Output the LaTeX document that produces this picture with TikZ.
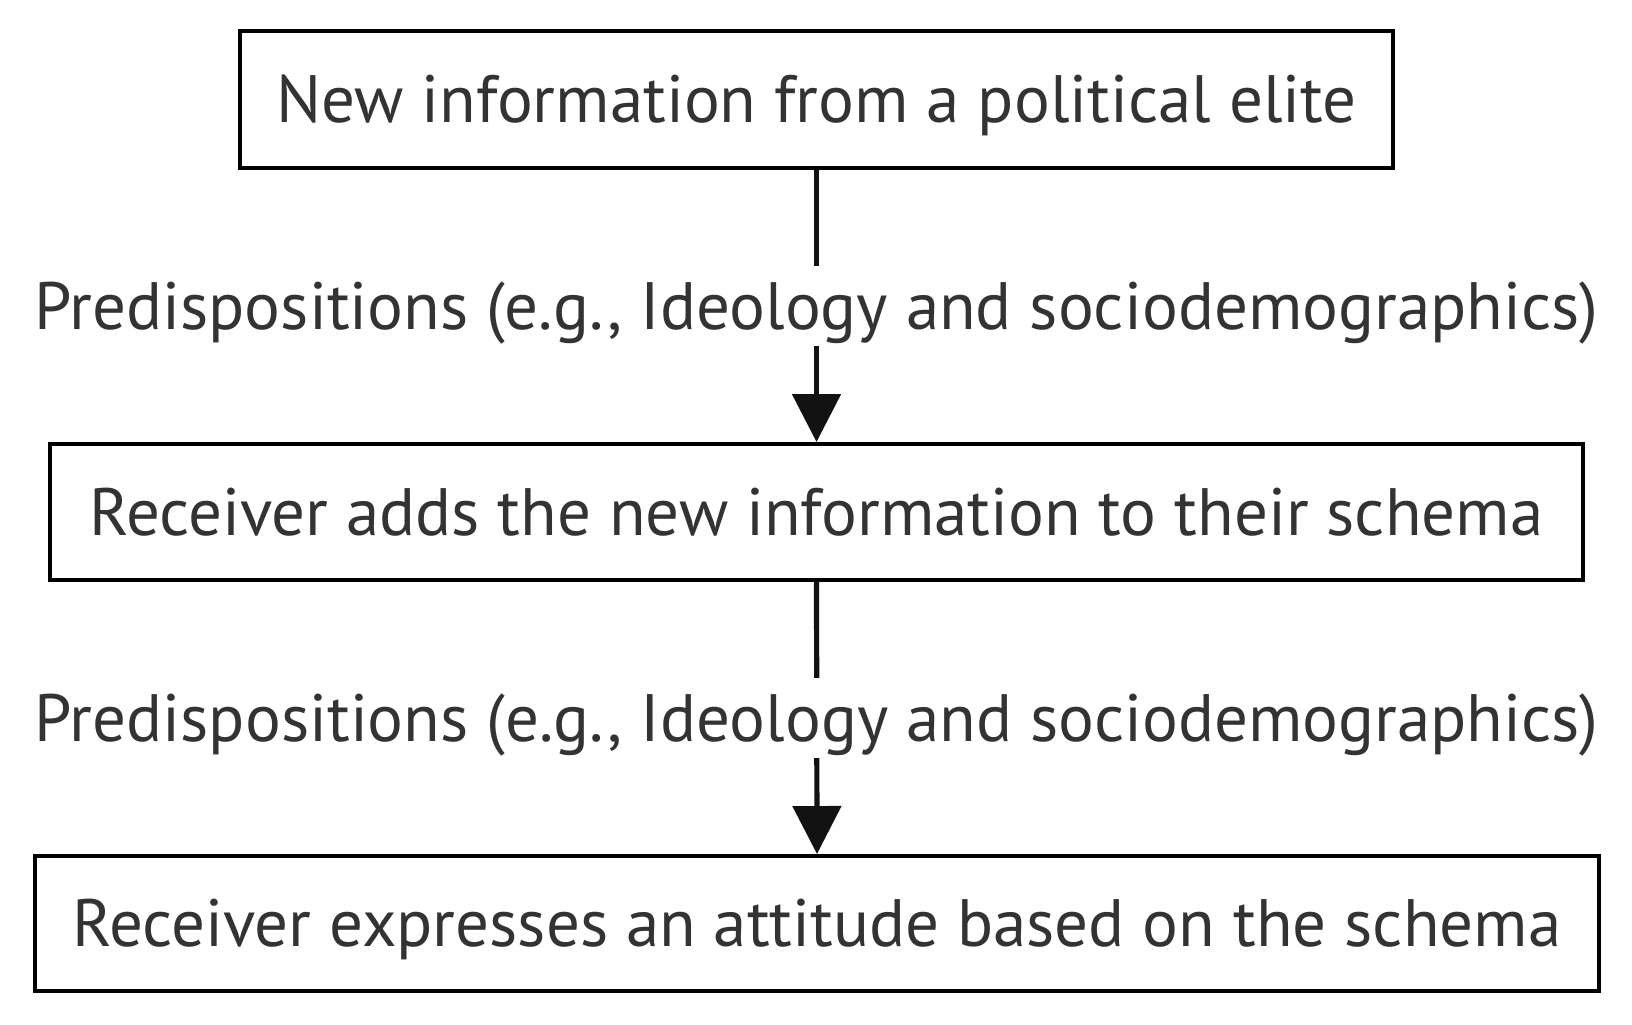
\documentclass[tikz,border=0pt]{standalone}
\usepackage{fontspec}
\setmainfont{PT Sans}
\usetikzlibrary{arrows.meta}
\definecolor{txt}{HTML}{333333}
% text set on a zero-size box so that its capitals sit centred in the node
\newcommand{\capcentre}[1]{\raisebox{-11.7pt}[0pt][0pt]{#1}}
\begin{document}
\begin{tikzpicture}[x=0.5pt,y=-0.5pt,
  stage/.style={draw=black, line width=2pt, fill=white, text=txt,
    font=\fontsize{33.5}{40}\selectfont, inner sep=0pt, anchor=center},
  flow/.style={draw=black!93, line width=2.6pt,
    -{Triangle[length=24pt,width=24pt]}},
  cond/.style={fill=white, text=txt, font=\fontsize{33.5}{40}\selectfont,
    inner sep=0pt, minimum height=40pt, minimum width=790pt}]
  \useasboundingbox (0,0) rectangle (1632,1024);
  \node[stage, minimum width=576.5pt, minimum height=68.5pt] (elite) at (816.5,99.5) {\capcentre{New information from a political elite}};
  \node[stage, minimum width=766.5pt, minimum height=68pt] (adds) at (816.5,512) {\capcentre{Receiver adds the new information to their schema}};
  \node[stage, minimum width=782pt, minimum height=67.5pt] (attitude) at (817,923.5) {\capcentre{Receiver expresses an attitude based on the schema}};
  \draw[flow] (elite.south) -- (adds.north)
    node[cond, pos=0.5] {\capcentre{Predispositions (e.g., Ideology and sociodemographics)}};
  \draw[flow] (adds.south) -- (attitude.north)
    node[cond, pos=0.5] {\capcentre{Predispositions (e.g., Ideology and sociodemographics)}};
\end{tikzpicture}
\end{document}
